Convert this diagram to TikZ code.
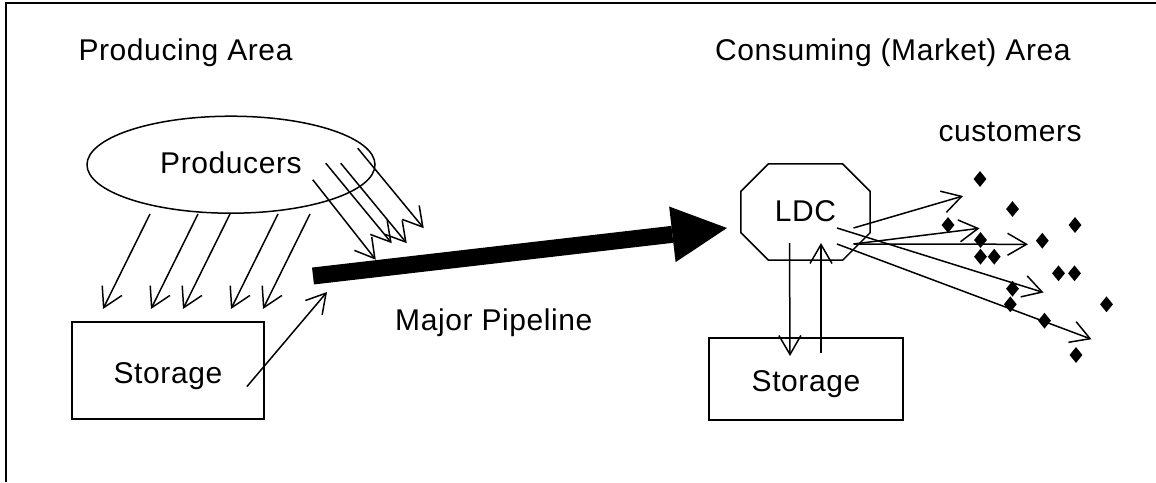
\documentclass[tikz,border=0pt]{standalone}
\usepackage{fontspec}
\setmainfont{Liberation Sans}[LetterSpace=2]
\usetikzlibrary{arrows.meta,shapes.geometric}

\begin{document}
\begin{tikzpicture}[x=1pt,y=-1pt,
  every node/.style={font=\fontsize{30}{36}\selectfont,inner sep=0pt},
  arr/.style={line width=1.5pt,-{Straight Barb[length=19pt,width=22pt]}},
  box/.style={draw,line width=1.5pt,text height=25.5pt,text depth=0pt},
  cust/.style={diamond,fill,minimum width=13pt,minimum height=16pt}]
\useasboundingbox (0,0) rectangle (1156,482);
\draw[line width=2.5pt] (6,482) -- (6,3) -- (1156,3);

\node[anchor=base west] (parea) at (78.3,60.7) {Producing Area};
\node[draw,ellipse,line width=1.5pt,minimum width=288pt,minimum height=97pt,text height=17pt] (prod) at (231,164.7) {Producers};
\node[box,minimum width=192pt,minimum height=97pt] (sto1) at (168,370.5) {Storage};
\draw[arr] ([xshift=-81pt]prod.south) -- ++(-47,95);
\draw[arr] ([xshift=-33pt]prod.south) -- ++(-47,95);
\draw[arr] ([xshift=-1pt]prod.south) -- ++(-47,95);
\draw[arr] ([xshift=47pt]prod.south) -- ++(-47,95);
\draw[arr] ([xshift=79pt]prod.south) -- ++(-47,95);
\draw[arr] ([shift={(-63,15)}]prod.east) -- ++(63,80);
\draw[arr] ([shift={(-50,-1.5)}]prod.east) -- ++(66,80);
\draw[arr] ([shift={(-35,-1.5)}]prod.east) -- ++(66,80);
\draw[arr] ([shift={(-18,-16.5)}]prod.east) -- ++(66,80);

\coordinate (pipeA) at (313,276);
\coordinate (pipeB) at (727,228);
\draw[line width=17pt,-{Triangle[length=55pt,width=56pt,line width=0pt]}] (pipeA) -- (pipeB);
\coordinate (feed) at (327,292);
\draw[arr] ([shift={(79,16)}]sto1.center) -- (feed);
\node[anchor=base west] (pline) at (395,330.7) {Major Pipeline};

\node[anchor=base west] (carea) at (715,60) {Consuming (Market) Area};
\node[anchor=base west] (custl) at (938.3,141.7) {customers};
\node[minimum width=129pt,minimum height=96pt,text height=19.4pt] (ldc) at (805.5,212) {LDC};
\draw[line width=1.5pt] ([xshift=27.6pt]ldc.north west) -- ([xshift=-27.6pt]ldc.north east)
  -- ([yshift=-27.6pt]ldc.north east) -- ([yshift=27.6pt]ldc.south east)
  -- ([xshift=-27.6pt]ldc.south east) -- ([xshift=27.6pt]ldc.south west)
  -- ([yshift=27.6pt]ldc.south west) -- ([yshift=-27.6pt]ldc.north west) -- cycle;
\node[box,minimum width=194pt,minimum height=82pt] (sto2) at (806,379) {Storage};
\draw[arr] ([shift={(-16,31)}]ldc.center) -- ([shift={(-16,-23)}]sto2.center);
\draw[arr] ([shift={(15,-26)}]sto2.center) -- ([shift={(15.5,31)}]ldc.center);

\coordinate (t1) at (963,196);
\coordinate (t2) at (979.5,228.3);
\coordinate (t3) at (1028,244.3);
\coordinate (t4) at (1043.5,292.5);
\coordinate (t5) at (1091.5,339.2);
\draw[arr] ([shift={(48,16)}]ldc.center) -- (t1);
\draw[arr] ([shift={(48,32)}]ldc.center) -- (t2);
\draw[arr] ([shift={(48,32)}]ldc.center) -- (t3);
\draw[arr] ([shift={(31.5,16)}]ldc.center) -- (t4);
\draw[arr] ([shift={(31.5,32)}]ldc.center) -- (t5);
\foreach \cx/\cy [count=\i] in {980/179,1012.5/209,948/225,1075/225,1042.3/240.7,
  980.5/240,980.5/256.7,994.2/256.7,1058.5/273.3,1074.5/273.3,1012.5/288.7,
  1010.3/304.3,1106.5/304.3,1044.5/320.7,1076/355}
  \node[cust] (c\i) at (\cx,\cy) {};
\end{tikzpicture}
\end{document}
